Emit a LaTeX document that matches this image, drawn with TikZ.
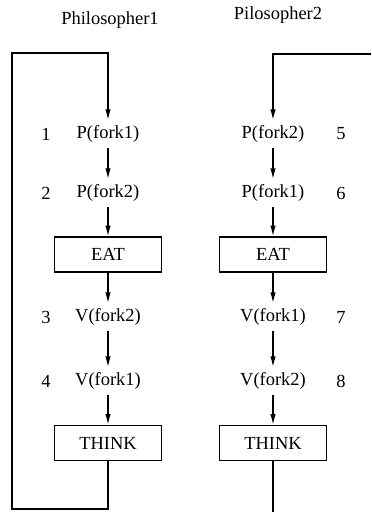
\documentclass[tikz,border=0pt]{standalone}
\usepackage{fontspec}
\setmainfont{Liberation Serif}
\usetikzlibrary{arrows.meta}

\tikzset{
    actionbox/.style={draw,
        line width=0.9pt,
        minimum width=69.5pt,
        minimum height=22.7pt,
        inner sep=0},
    flowline/.style={line width=0.9pt},
    flowarrow/.style={line width=0.9pt, -{Latex[length=7pt,width=3.6pt]}}
}

\begin{document}
\begin{tikzpicture}[x=0.65pt, y=-0.65pt, font=\fontsize{12}{14}\selectfont]
\useasboundingbox (0,0) rectangle (371,512);

\node (title_a) at (110,20) {Philosopher1};
\node (title_b) at (278,15) {Pilosopher2};

% Philosopher1
\node (pa1) at (108,134) {P(fork1)};
\node (pa2) at (108,193) {P(fork2)};
\node[actionbox] (eat_a) at (108,254.5) {EAT};
\node (va1) at (108,317) {V(fork2)};
\node (va2) at (108,381) {V(fork1)};
\node[actionbox] (think_a) at (108,443) {THINK};

\node (num1) at (46,134) {1};
\node (num2) at (46,193) {2};
\node (num3) at (46,317) {3};
\node (num4) at (46,381) {4};

% Pilosopher2
\node (pb1) at (273,134) {P(fork2)};
\node (pb2) at (273,193) {P(fork1)};
\node[actionbox] (eat_b) at (273,254.5) {EAT};
\node (vb1) at (273,317) {V(fork1)};
\node (vb2) at (273,381) {V(fork2)};
\node[actionbox] (think_b) at (273,443) {THINK};

\node (num5) at (341,134) {5};
\node (num6) at (341,193) {6};
\node (num7) at (341,317) {7};
\node (num8) at (341,381) {8};

\coordinate (loop_bot) at (12,509);
\coordinate (loop_top) at (12,53);
\coordinate (in_b) at (371,54);
\coordinate (out_b) at (273,512);

\draw[flowarrow] (pa1) edge (pa2)
    (pa2) edge (eat_a)
    (eat_a) edge (va1)
    (va1) edge (va2)
    (va2) edge (think_a);
\draw[flowarrow] (think_a) |- (loop_bot) -- (loop_top) -| (pa1);

\draw[flowarrow] (pb1) edge (pb2)
    (pb2) edge (eat_b)
    (eat_b) edge (vb1)
    (vb1) edge (vb2)
    (vb2) edge (think_b);
\draw[flowarrow] (in_b) -| (pb1);
\draw[flowline] (think_b) -- (out_b);

\end{tikzpicture}
\end{document}
